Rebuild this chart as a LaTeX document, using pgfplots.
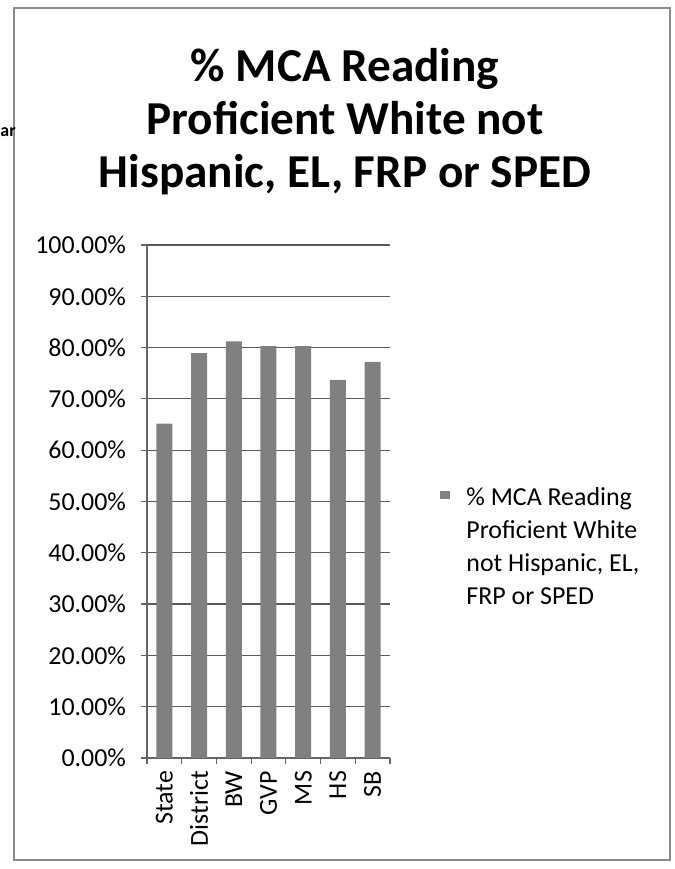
\documentclass[border=0pt]{standalone}
\usepackage{fontspec}
\setmainfont{Carlito}
\usepackage{pgfplots}
\pgfplotsset{compat=1.18}

\begin{document}
\begin{tikzpicture}[x=1bp,y=1bp]
\useasboundingbox (0,0) rectangle (337,434.5);
% chart area frame
\draw[black!45, line width=0.6bp] (7,4.5) rectangle (335,430.5);
% text of a neighbouring chart, cut at the left edge
\node[anchor=base west, inner sep=0pt, font=\fontsize{9}{11}\selectfont\bfseries] at (0,366) {ar};
% title
\node[anchor=base, inner sep=0pt, font=\fontsize{23.7}{28}\selectfont\bfseries] at (172.5,393.5) {\% MCA Reading};
\node[anchor=base, inner sep=0pt, font=\fontsize{23.7}{28}\selectfont\bfseries] at (172.5,367) {Proficient White not};
\node[anchor=base, inner sep=0pt, font=\fontsize{23.7}{28}\selectfont\bfseries] at (172.5,340.5) {Hispanic, EL, FRP or SPED};

\begin{axis}[
    at={(73.5bp,55.5bp)}, anchor=south west,
    scale only axis,
    width=121.5bp,
    height=256.5bp,
    ybar, bar width=8bp,
    xmin=-0.5, xmax=6.5,
    ymin=0, ymax=100,
    ytick={0,10,...,100},
    xtick={-0.5,0.5,...,6.5},
    xticklabels={State,District,BW,GVP,MS,HS,SB},
    x tick label as interval,
    xticklabel style={rotate=90, anchor=east},
    yticklabel={\pgfmathprintnumber[fixed,fixed zerofill,precision=2]{\tick}\%},
    yticklabel style={xshift=-4bp},
    /pgf/number format/assume math mode=true,
    ticklabel style={font=\fontsize{13}{15}\selectfont},
    axis x line*=bottom, axis y line*=left,
    axis line style={black!60, line width=0.6bp, -},
    tick align=outside,
    major tick length=3bp,
    tick style={black!60, line width=0.6bp},
    ymajorgrids, xmajorgrids=false,
    grid style={black!65, line width=0.6bp},
    legend image code/.code={\fill[#1] (0bp,3.5bp) rectangle (5bp,7.5bp);},
    legend style={at={(1.206,0.535)}, anchor=north west, draw=none, fill=none,
        inner sep=0pt, column sep=6bp, cells={anchor=base west},
        font=\fontsize{13}{16.5}\selectfont},
]
\addplot[fill=black!50, draw=none] coordinates {
(0,65.2) (1,78.9) (2,81.2) (3,80.3) (4,80.3) (5,73.7) (6,77.2)
};
\addlegendentry{\parbox[t]{90bp}{\raggedright\% MCA Reading\\Proficient White\\not Hispanic, EL,\\FRP or SPED}}
\end{axis}
\end{tikzpicture}
\end{document}
